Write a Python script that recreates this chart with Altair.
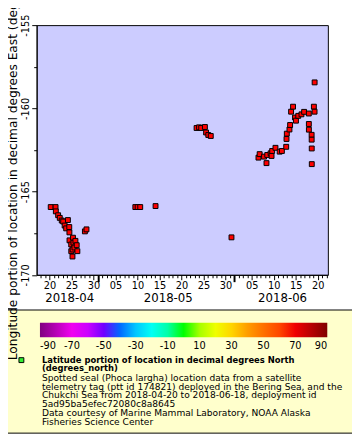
import altair as alt
import pandas as pd

# ---- data ----
times = [
    "2018-04-20T06:30", "2018-04-21T09:00", "2018-04-21T10:30", "2018-04-21T23:00",
    "2018-04-22T08:00", "2018-04-22T18:45", "2018-04-23T02:40", "2018-04-23T10:30",
    "2018-04-23T18:45", "2018-04-24T04:20", "2018-04-24T11:45", "2018-04-24T12:30",
    "2018-04-24T13:00", "2018-04-24T22:20", "2018-04-24T22:40", "2018-04-25T05:15",
    "2018-04-25T06:00", "2018-04-25T08:00", "2018-04-25T10:30", "2018-04-25T16:00",
    "2018-04-25T21:20", "2018-04-26T04:20", "2018-04-26T08:00", "2018-04-28T01:00",
    "2018-04-28T09:40",
    "2018-05-09T12:15", "2018-05-10T01:00", "2018-05-10T15:00", "2018-05-14T02:40",
    "2018-05-23T10:30", "2018-05-24T00:00", "2018-05-24T11:45", "2018-05-25T08:00",
    "2018-05-25T14:25", "2018-05-26T02:25", "2018-05-26T16:00", "2018-05-31T09:00",
    "2018-06-06T12:15", "2018-06-06T18:45", "2018-06-07T18:45", "2018-06-08T08:00",
    "2018-06-08T12:15", "2018-06-09T06:30", "2018-06-09T11:45", "2018-06-09T15:00",
    "2018-06-10T09:00", "2018-06-11T08:00", "2018-06-11T20:10", "2018-06-12T19:40",
    "2018-06-12T21:20", "2018-06-12T23:00", "2018-06-13T13:25", "2018-06-13T17:00",
    "2018-06-13T22:20", "2018-06-14T09:00", "2018-06-14T19:40", "2018-06-15T01:00",
    "2018-06-15T13:25", "2018-06-16T07:00", "2018-06-16T21:20", "2018-06-17T23:00",
    "2018-06-17T23:15", "2018-06-17T23:30", "2018-06-18T14:25", "2018-06-18T14:40",
    "2018-06-18T15:00", "2018-06-18T15:15", "2018-06-19T02:40", "2018-06-19T06:30",
    "2018-06-19T06:45",
]
longitudes = [
    -165.93, -165.93, -166.19, -166.42,
    -166.58, -166.74, -166.80, -167.04,
    -167.21, -166.71, -167.13, -167.45,
    -167.93, -168.18, -168.58, -168.90,
    -168.48, -167.77, -168.07, -168.36,
    -167.96, -168.22, -168.58, -167.39,
    -167.27,
    -165.93, -165.93, -165.93, -165.87,
    -161.18, -161.14, -161.18, -161.12,
    -161.45, -161.60, -161.66, -167.75,
    -162.96, -162.75, -162.90, -163.29,
    -162.80, -162.70, -162.86, -162.56,
    -162.37, -162.60, -162.56, -162.31,
    -161.84, -161.52, -161.27, -161.00,
    -160.20, -159.90, -160.55, -160.74,
    -160.45, -160.36, -160.21, -160.31,
    -160.94, -161.28, -161.59, -161.88,
    -162.41, -163.35, -159.90, -160.20,
    -158.44,
]
marker_latitude = 67.5  # all markers share the red of the colour bar

month_labels = ["2018-04", "2018-05", "2018-06"]
month_label_times = ["2018-04-24T14:00", "2018-05-17T00:00", "2018-06-12T00:00"]

colorbar_values = [-90, -70, -50, -30, -10, 10, 30, 50, 70, 90]
palette_stops = [-90, -67.5, -45, -22.5, 0, 22.5, 45, 67.5, 90]
palette_colors = ["#800080", "#ff00ff", "#0000ff", "#00ffff", "#00ff00",
                  "#ffff00", "#ff8000", "#ff0000", "#800000"]

y_ticks = [-170, -167.5, -165, -162.5, -160, -157.5, -155]

legend_title_lines = [
    "Latitude portion of location in decimal degrees North",
    "(degrees_north)",
]
legend_text_lines = [
    "Spotted seal (Phoca largha) location data from a satellite",
    "telemetry tag (ptt id 174821) deployed in the Bering Sea, and the",
    "Chukchi Sea from 2018-04-20 to 2018-06-18, deployment id",
    "5ad95ba5efec72080c8a8645",
    "Data courtesy of Marine Mammal Laboratory, NOAA Alaska",
    "Fisheries Science Center",
]

FONT = "DejaVu Sans"

df = pd.DataFrame({"time": times, "lon": longitudes})
months_df = pd.DataFrame({"time": month_label_times, "label": month_labels})

x_scale = alt.Scale(
    domain=[alt.DateTime(year=2018, month=4, date=17, hours=1, minutes=40),
            alt.DateTime(year=2018, month=6, date=22, hours=7)],
    nice=False,
)
y_scale = alt.Scale(domain=[-170, -155], nice=False, zero=False)

x_axis = alt.Axis(
    title=None,
    grid=False,
    tickCount={"interval": "day", "step": 1},
    labelExpr="date(datum.value) % 5 == 0 ? timeFormat(datum.value, '%d') : ''",
    tickSize={"condition": [{"test": "date(datum.value) == 1", "value": 7},
                            {"test": "date(datum.value) % 5 == 0", "value": 5}],
              "value": 3},
    tickWidth={"condition": {"test": "date(datum.value) == 1", "value": 2}, "value": 1},
    labelFont=FONT, labelFontSize=10, labelColor="black",
    labelPadding=1, labelFlush=False, labelOverlap=False,
    domainColor="black", tickColor="black",
)
y_axis = alt.Axis(
    title="Longitude portion of location in decimal degrees East (degrees_east)",
    grid=False,
    values=y_ticks,
    labelExpr="datum.value % 5 == 0 ? '' + datum.value : ''",
    tickSize={"condition": {"test": "datum.value % 5 == 0", "value": 5}, "value": 3},
    labelAngle=270, labelAlign="center", labelBaseline="bottom",
    labelFont=FONT, labelFontSize=10, labelColor="black", labelPadding=1,
    labelFlush=False, labelOverlap=False,
    titleFont=FONT, titleFontSize=12.5, titleFontWeight="normal", titleColor="black",
    titleAngle=270, titleAlign="left", titleBaseline="middle",
    titleX=-24.3, titleY=342.5,
    domainColor="black", tickColor="black", zindex=1,
)

box = alt.Chart(pd.DataFrame({"k": [0]})).mark_rect(
    fill="#ffffcc", stroke="black", strokeWidth=1
).encode(
    x=alt.value(-36.3), x2=alt.value(330), y=alt.value(291.5), y2=alt.value(417.5)
)

points = alt.Chart(df).transform_calculate(
    lat=str(marker_latitude)
).mark_square(
    size=25, opacity=1, filled=True, stroke="black", strokeWidth=1
).encode(
    x=alt.X("time:T", scale=x_scale, axis=x_axis),
    y=alt.Y("lon:Q", scale=y_scale, axis=y_axis),
    color=alt.Color(
        "lat:Q",
        scale=alt.Scale(domain=palette_stops, range=palette_colors, nice=False, zero=False),
        legend=alt.Legend(
            title=None, orient="none", direction="horizontal",
            legendX=3.4, legendY=304.5,
            gradientLength=294, gradientThickness=15, gradientStrokeWidth=0,
            values=colorbar_values,
            labelExpr="'' + datum.value",
            labelFont=FONT, labelFontSize=10, labelColor="black",
            labelAlign="center", labelOffset=4, labelOverlap=False,
            padding=0,
        ),
    ),
)

months = alt.Chart(months_df).mark_text(
    font=FONT, fontSize=12, color="black", baseline="middle", align="center"
).encode(
    x=alt.X("time:T", scale=x_scale),
    y=alt.value(279.5),
    text="label:N",
)

marker = alt.Chart(pd.DataFrame({"k": [0]})).mark_square(
    size=25, filled=True, color="#33ee33", stroke="black", strokeWidth=1, opacity=1
).encode(x=alt.value(-15.6), y=alt.value(342.8))

line_y_title = [342.8, 351.2]
line_y_text = [361.2, 370.2, 378.8, 387.8, 397.2, 406.2]

text_layers = []
for txt, yy in zip(legend_title_lines, line_y_title):
    text_layers.append(
        alt.Chart(pd.DataFrame({"t": [txt]})).mark_text(
            font=FONT, fontSize=8.6, fontWeight="bold", color="black",
            align="left", baseline="middle"
        ).encode(x=alt.value(5.4), y=alt.value(yy), text="t:N")
    )
for txt, yy in zip(legend_text_lines, line_y_text):
    text_layers.append(
        alt.Chart(pd.DataFrame({"t": [txt]})).mark_text(
            font=FONT, fontSize=9.3, color="black", align="left", baseline="middle"
        ).encode(x=alt.value(5.4), y=alt.value(yy), text="t:N")
    )

chart = alt.layer(box, points, months, marker, *text_layers).properties(
    width=298, height=255.5,
    padding={"left": 29.3, "top": 12.5, "right": 24.7, "bottom": 164},
    autosize=alt.AutoSizeParams(type="none"),
    background="white",
).configure_view(
    fill="#ccccff", stroke="black", strokeWidth=1
)

chart.save("out.html", embed_options={"renderer": "svg", "actions": False})
